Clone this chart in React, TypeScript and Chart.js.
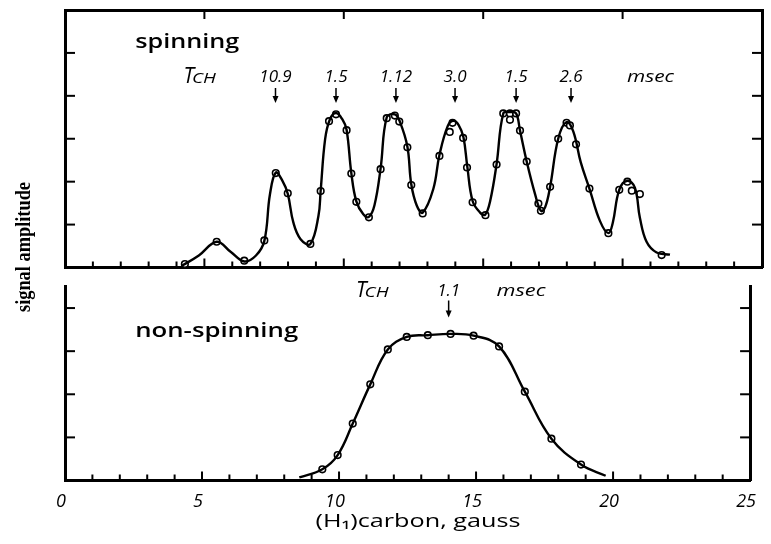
import React, { useEffect, useRef } from 'react';
import { Chart, registerables } from 'chart.js';

Chart.register(...registerables);

const W = 771;
const H = 544;

// ---------------- data ----------------
const xLabelValues = [0, 5, 10, 15, 20, 25];
const xTitle = '(H\u2081)carbon, gauss';
const yTitle = 'signal amplitude';

// spinning: measured points
const spinPointX = [4.30, 5.44, 6.43, 7.15, 7.56, 7.99, 8.80, 9.17, 9.47, 9.72, 10.10, 10.27, 10.45, 10.90, 11.32, 11.54, 11.83, 11.99, 12.28, 12.42, 12.83, 13.43, 13.80, 13.90, 14.28, 14.42, 14.62, 15.08, 15.48, 15.72, 15.96, 16.18, 15.96, 16.32, 16.56, 16.98, 17.07, 17.40, 17.69, 17.99, 18.11, 18.33, 18.81, 19.49, 19.88, 20.17, 20.33, 20.62, 21.40];
const spinPointY = [0.08, 0.60, 0.16, 0.63, 2.20, 1.73, 0.55, 1.78, 3.41, 3.57, 3.20, 2.19, 1.53, 1.17, 2.29, 3.48, 3.54, 3.40, 2.80, 1.92, 1.26, 2.60, 3.16, 3.37, 3.02, 2.33, 1.52, 1.22, 2.40, 3.59, 3.59, 3.59, 3.44, 3.19, 2.47, 1.49, 1.32, 1.88, 3.00, 3.37, 3.31, 2.87, 1.84, 0.80, 1.81, 2.00, 1.79, 1.71, 0.29];

// spinning: hand-drawn smooth curve
const spinCurveX = [4.19, 4.80, 5.44, 5.95, 6.43, 6.85, 7.15, 7.35, 7.56, 7.80, 7.99, 8.19, 8.45, 8.80, 9.09, 9.17, 9.33, 9.50, 9.72, 9.95, 10.10, 10.27, 10.45, 10.70, 10.90, 11.10, 11.32, 11.54, 11.83, 12.01, 12.28, 12.42, 12.62, 12.83, 13.21, 13.43, 13.73, 13.93, 14.12, 14.29, 14.43, 14.62, 14.89, 15.07, 15.25, 15.48, 15.72, 15.96, 16.18, 16.32, 16.56, 16.86, 17.07, 17.22, 17.40, 17.69, 17.99, 18.23, 18.50, 18.81, 19.19, 19.49, 19.65, 19.88, 20.17, 20.44, 20.62, 20.86, 21.22, 21.70];
const spinCurveY = [0.04, 0.28, 0.60, 0.36, 0.14, 0.28, 0.62, 1.70, 2.21, 2.02, 1.72, 1.05, 0.66, 0.55, 1.20, 1.79, 2.99, 3.45, 3.60, 3.45, 3.21, 2.20, 1.54, 1.24, 1.18, 1.45, 2.31, 3.50, 3.57, 3.40, 2.82, 1.94, 1.44, 1.28, 1.83, 2.62, 3.30, 3.42, 3.32, 3.04, 2.35, 1.55, 1.28, 1.23, 1.55, 2.41, 3.59, 3.62, 3.59, 3.19, 2.47, 1.71, 1.32, 1.40, 1.88, 3.00, 3.39, 3.17, 2.45, 1.84, 1.08, 0.80, 1.05, 1.81, 2.02, 1.86, 1.16, 0.60, 0.35, 0.30];

const spinArrowX = [7.55, 9.72, 11.87, 13.99, 16.18, 18.15];
const spinArrowLabels = ['10.9', '1.5', '1.12', '3.0', '1.5', '2.6'];

// non-spinning: measured points
const staticPointX = [9.39, 9.95, 10.50, 11.14, 11.78, 12.47, 13.24, 14.07, 14.91, 15.84, 16.78, 17.75, 18.83];
const staticPointY = [0.26, 0.59, 1.32, 2.23, 3.04, 3.33, 3.37, 3.40, 3.36, 3.11, 2.06, 0.97, 0.37];

// non-spinning: smooth curve
const staticCurveX = [8.55, 9.39, 9.95, 10.50, 11.14, 11.78, 12.47, 13.24, 14.07, 14.91, 15.84, 16.78, 17.75, 18.83, 19.73];
const staticCurveY = [0.07, 0.26, 0.59, 1.32, 2.23, 3.04, 3.33, 3.37, 3.40, 3.36, 3.11, 2.06, 0.97, 0.37, 0.11];

const staticArrowX = [14.0];
const staticArrowLabels = ['1.1'];

// ---------------- layout ----------------
const PLOT_LEFT = 65;
const PLOT_RIGHT = 762;
const TOP1 = 10;
const BOTTOM1 = 267.5;
const TOP2 = 286.5;
const BOTTOM2 = 480.5;
const LABEL_FONT = '"Open Sans"';

const toXY = (xs: number[], ys: number[]) => xs.map((x, i) => ({ x, y: ys[i] }));

const inwardTicks = {
  id: 'inwardTicks',
  afterDraw(chart: any) {
    const { ctx, chartArea: a, scales } = chart;
    ctx.save();
    ctx.strokeStyle = '#000';
    ctx.lineWidth = 2;
    const seg = (x1: number, y1: number, x2: number, y2: number) => {
      ctx.beginPath();
      ctx.moveTo(x1, y1);
      ctx.lineTo(x2, y2);
      ctx.stroke();
    };
    const xb = scales.x;
    if (xb) xb.ticks.forEach((t: any) => {
      const v = t.value;
      if (v <= xb.min || v >= xb.max || !Number.isInteger(v)) return;
      const p = xb.getPixelForValue(v);
      seg(p, a.bottom, p, a.bottom - (v % 5 === 0 ? 9 : 6));
    });
    const xt = scales.xTop;
    if (xt) xt.ticks.forEach((t: any) => {
      const v = t.value;
      if (v <= xt.min || v >= xt.max || v % 5 !== 0) return;
      const p = xt.getPixelForValue(v);
      seg(p, a.top, p, a.top + 9);
    });
    const yl = scales.y;
    if (yl) yl.ticks.forEach((t: any) => {
      const v = t.value;
      if (v <= yl.min || v >= yl.max || !Number.isInteger(v)) return;
      const p = yl.getPixelForValue(v);
      seg(a.left, p, a.left + 10, p);
    });
    const yr = scales.yRight;
    if (yr) yr.ticks.forEach((t: any) => {
      const v = t.value;
      if (v <= yr.min || v >= yr.max || !Number.isInteger(v)) return;
      const p = yr.getPixelForValue(v);
      seg(a.right, p, a.right - 10, p);
    });
    ctx.restore();
  },
};

function text(ctx: any, s: string, x: number, y: number, font: string, align: string) {
  ctx.font = font;
  ctx.textAlign = align;
  ctx.textBaseline = 'middle';
  ctx.fillStyle = '#000';
  ctx.fillText(s, x, y);
}

// text stretched horizontally to the width it has in the hand lettering
function fitText(ctx: any, s: string, x: number, y: number, font: string, width: number, align: string, rot = 0) {
  ctx.save();
  ctx.font = font;
  const w = ctx.measureText(s).width;
  ctx.translate(x, y);
  if (rot) ctx.rotate(rot);
  ctx.scale(width / w, 1);
  ctx.textAlign = align;
  ctx.textBaseline = 'middle';
  ctx.fillStyle = '#000';
  ctx.fillText(s, 0, 0);
  ctx.restore();
}

function arrow(ctx: any, x: number, y1: number, y2: number) {
  ctx.save();
  ctx.strokeStyle = '#000';
  ctx.fillStyle = '#000';
  ctx.lineWidth = 1.5;
  ctx.beginPath();
  ctx.moveTo(x, y1);
  ctx.lineTo(x, y2 - 4);
  ctx.stroke();
  ctx.beginPath();
  ctx.moveTo(x - 3, y2 - 7);
  ctx.lineTo(x + 3, y2 - 7);
  ctx.lineTo(x, y2);
  ctx.closePath();
  ctx.fill();
  ctx.restore();
}

function tch(ctx: any, x: number, y: number, scale: number) {
  const f1 = `italic 500 ${21 * scale}px ${LABEL_FONT}`;
  text(ctx, 'T', x, y, f1, 'left');
  ctx.font = f1;
  const w = ctx.measureText('T').width;
  fitText(ctx, 'CH', x + w - 2, y + 2, `italic 500 ${14 * scale}px ${LABEL_FONT}`, 24 * scale, 'left');
}

function makeAnnot(kind: 'spin' | 'static') {
  return {
    id: 'annot_' + kind,
    afterDraw(chart: any) {
      const { ctx, chartArea: a, scales } = chart;
      const xs = scales.x;
      ctx.save();
      if (kind === 'spin') {
        fitText(ctx, 'spinning', xs.getPixelForValue(2.52), a.top + 33, `600 19px ${LABEL_FONT}`, 104, 'left');
        const ly = a.top + 67;
        tch(ctx, xs.getPixelForValue(4.25), ly, 1);
        spinArrowX.forEach((v, i) => {
          const px = xs.getPixelForValue(v);
          text(ctx, spinArrowLabels[i], px, ly, `italic 500 17px ${LABEL_FONT}`, 'center');
          arrow(ctx, px, a.top + 78, a.top + 93);
        });
        fitText(ctx, 'msec', xs.getPixelForValue(21.0), ly, `italic 500 16px ${LABEL_FONT}`, 47, 'center');
        // shared y axis title
        fitText(ctx, yTitle, 24, 247, 'bold 22px "Liberation Serif"', 130, 'center', -Math.PI / 2);
      } else {
        fitText(ctx, 'non-spinning', xs.getPixelForValue(2.56), a.top + 45.5, `600 19px ${LABEL_FONT}`, 163, 'left');
        const ly = a.top + 4.5;
        tch(ctx, xs.getPixelForValue(10.62), ly, 1);
        staticArrowX.forEach((v, i) => {
          const px = xs.getPixelForValue(v);
          text(ctx, staticArrowLabels[i], px, ly, `italic 500 17px ${LABEL_FONT}`, 'center');
          arrow(ctx, px, a.top + 14, a.top + 31);
        });
        fitText(ctx, 'msec', xs.getPixelForValue(16.64), ly, `italic 500 16px ${LABEL_FONT}`, 49, 'center');
        // x axis title
        fitText(ctx, xTitle, xs.getPixelForValue(12.88), 522, `19px ${LABEL_FONT}`, 205, 'center');
      }
      ctx.restore();
    },
  };
}

const axisBase = (pos: string, min: number, max: number) => ({
  type: 'linear',
  position: pos,
  min,
  max,
  ticks: { display: false, stepSize: 1, autoSkip: false },
  grid: { display: false, drawTicks: false },
  border: { display: true, color: '#000', width: 3 },
});

function datasets(px: number[], py: number[], cx: number[], cy: number[]) {
  return [
    {
      data: toXY(cx, cy),
      showLine: true,
      pointRadius: 0,
      borderColor: '#000',
      borderWidth: 2.4,
      tension: 0.4,
      fill: false,
    },
    {
      data: toXY(px, py),
      showLine: false,
      pointRadius: 3.3,
      pointBackgroundColor: '#fff',
      pointBorderColor: '#000',
      pointBorderWidth: 1.6,
    },
  ];
}

function topConfig(): any {
  return {
    type: 'scatter',
    data: { datasets: datasets(spinPointX, spinPointY, spinCurveX, spinCurveY) },
    options: {
      animation: false,
      responsive: false,
      maintainAspectRatio: false,
      events: [],
      layout: { padding: { left: PLOT_LEFT, right: W - PLOT_RIGHT, top: TOP1, bottom: H - BOTTOM1 } },
      plugins: { legend: { display: false }, tooltip: { enabled: false } },
      scales: {
        x: axisBase('bottom', 0, 25),
        xTop: axisBase('top', 0, 25),
        y: axisBase('left', 0, 6),
        yRight: axisBase('right', 0, 6),
      },
    },
    plugins: [inwardTicks, makeAnnot('spin')],
  };
}

function bottomConfig(): any {
  const x: any = axisBase('bottom', 0, 25);
  x.ticks = {
    display: true,
    stepSize: 1,
    autoSkip: false,
    maxRotation: 0,
    padding: 11,
    labelOffset: -4,
    color: '#000',
    font: { family: LABEL_FONT, size: 18, style: 'italic' },
    callback: (v: number) => (xLabelValues.includes(v) ? String(v) : ''),
  };
  x.afterFit = (s: any) => {
    s.height = H - BOTTOM2;
  };
  return {
    type: 'scatter',
    data: { datasets: datasets(staticPointX, staticPointY, staticCurveX, staticCurveY) },
    options: {
      animation: false,
      responsive: false,
      maintainAspectRatio: false,
      events: [],
      layout: { padding: { left: PLOT_LEFT, right: W - PLOT_RIGHT, top: TOP2, bottom: 0 } },
      plugins: { legend: { display: false }, tooltip: { enabled: false } },
      scales: {
        x,
        y: axisBase('left', 0, 4.5),
        yRight: axisBase('right', 0, 4.5),
      },
    },
    plugins: [inwardTicks, makeAnnot('static')],
  };
}

export default function App() {
  const topRef = useRef<HTMLCanvasElement>(null);
  const botRef = useRef<HTMLCanvasElement>(null);
  useEffect(() => {
    const c1 = new Chart(topRef.current as HTMLCanvasElement, topConfig());
    const c2 = new Chart(botRef.current as HTMLCanvasElement, bottomConfig());
    return () => {
      c1.destroy();
      c2.destroy();
    };
  }, []);
  const cs: any = { position: 'absolute', left: 0, top: 0, width: W, height: H };
  return (
    <div style={{ position: 'absolute', left: 0, top: 0, width: W, height: H, background: '#fff' }}>
      <canvas ref={topRef} width={W} height={H} style={cs} />
      <canvas ref={botRef} width={W} height={H} style={cs} />
    </div>
  );
}
